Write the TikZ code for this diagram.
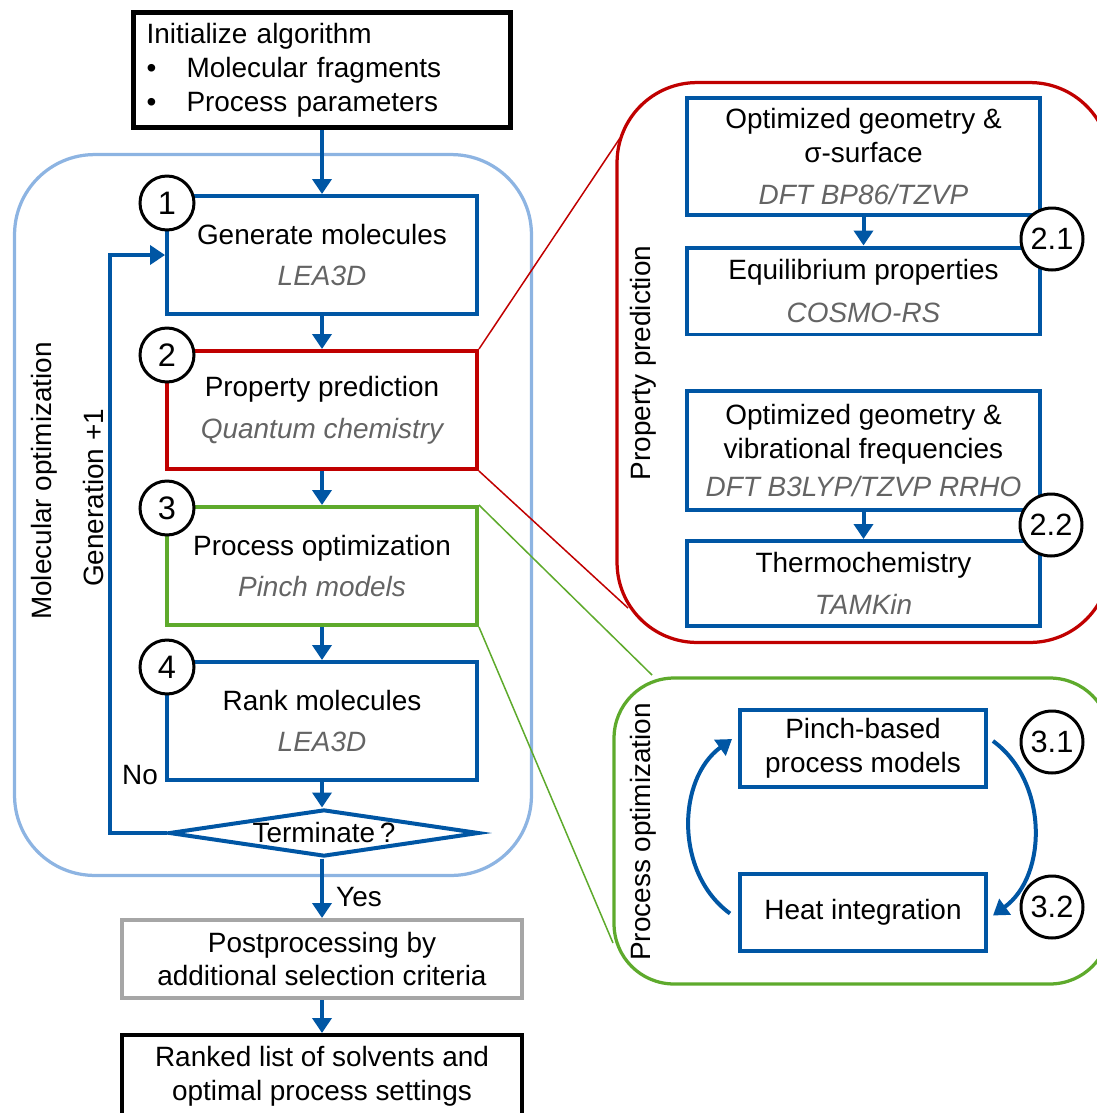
\documentclass[tikz,border=0pt]{standalone}
\usepackage{fontspec}
\setmainfont{Liberation Sans}
\usetikzlibrary{shapes.geometric,arrows.meta}
\definecolor{boxblue}{RGB}{0,86,164}
\definecolor{frameblue}{RGB}{141,180,226}
\definecolor{boxred}{RGB}{192,0,0}
\definecolor{boxgreen}{RGB}{94,170,44}
\definecolor{boxgrey}{RGB}{166,166,166}
\definecolor{subgrey}{RGB}{100,100,100}
\newcommand{\subtxt}[1]{{\color{subgrey}\itshape #1}}

\begin{document}
\begin{tikzpicture}[x=0.02cm, y=0.02cm,
                    every node/.style={font=\fontsize{15.9}{19.3}\selectfont, align=center, inner sep=0pt},
                    step_box/.style={draw=boxblue, line width=0.08cm, minimum width=6.2cm, minimum height=2.36cm},
                    sub_box/.style={draw=boxblue, line width=0.08cm, minimum width=7.06cm},
                    loop_box/.style={draw=boxblue, line width=0.08cm, minimum width=4.92cm, minimum height=1.54cm},
                    end_box/.style={line width=0.08cm, minimum width=8cm},
                    frame_style/.style={line width=0.065cm, rounded corners=1.6cm},
                    num_style/.style={circle, draw=black, fill=white, line width=0.06cm, minimum size=1.08cm, font=\fontsize{18.5}{20}\selectfont},
                    subnum_style/.style={num_style, minimum size=1.24cm, font=\fontsize{17.5}{20}\selectfont},
                    edge_style/.style={draw=boxblue, line width=0.08cm, -{Triangle[width=0.38cm,length=0.3cm]}},
                    zoom_style/.style={line width=0.03cm}]
  \clip (0,0) rectangle (1097,-1113);

  \node[draw=frameblue, frame_style, minimum width=10.34cm, minimum height=14.42cm] (molframe) at (273,-515) {};
  \node[draw=boxred, frame_style, minimum width=9.86cm, minimum height=11.2cm] (propframe) at (863.5,-362.5) {};
  \node[draw=boxgreen, frame_style, rounded corners=1.2cm, minimum width=9.92cm, minimum height=6.12cm] (procframe) at (862,-831) {};

  \node[draw=black, line width=0.1cm, align=left, text width=7.02cm, inner xsep=0.27cm, minimum height=2.32cm] (init) at (322,-70)
       {Initialize algorithm\\\makebox[0.8cm][l]{\textbullet}Molecular fragments\\\makebox[0.8cm][l]{\textbullet}Process parameters};
  \node[step_box] (gen) at (322,-255) {Generate molecules\\[4.5pt]\subtxt{LEA3D}};
  \node[step_box, draw=boxred] (prop) at (322,-410) {Property prediction\\[4.5pt]\subtxt{Quantum chemistry}};
  \node[step_box, draw=boxgreen] (proc) at (322,-566) {Process optimization\\[4.5pt]\subtxt{Pinch models}};
  \node[step_box] (rank) at (322,-721) {Rank molecules\\[4.5pt]\subtxt{LEA3D}};
  \node[diamond, draw=boxblue, line width=0.08cm, aspect=6.6, minimum width=6.2cm, minimum height=0.94cm] (term) at (324,-833) {Terminate\,?};
  \node[end_box, draw=boxgrey, minimum height=1.56cm] (post) at (322,-959) {Postprocessing by\\additional selection criteria};
  \node[end_box, draw=black, minimum height=1.64cm] (result) at (322,-1076) {Ranked list of solvents and\\optimal process settings};

  \node[rotate=90] (moltxt) at (44,-481) {Molecular optimization};
  \node[rotate=90] (gentxt) at (94,-498) {Generation +1};
  \node (notxt) at (140,-775) {No};
  \node (yestxt) at (359,-897) {Yes};

  \node[num_style] (c1) at (167,-203) {1};
  \node[num_style] (c2) at (167,-355) {2};
  \node[num_style] (c3) at (167,-508) {3};
  \node[num_style] (c4) at (167,-667) {4};

  \draw[edge_style] (init) -- (gen);
  \draw[edge_style] (gen) -- (prop);
  \draw[edge_style] (prop) -- (proc);
  \draw[edge_style] (proc) -- (rank);
  \draw[edge_style] (rank) -- (rank |- term.north);
  \draw[edge_style] (term.south -| post) -- (post);
  \draw[edge_style] (post) -- (result);
  \draw[edge_style] (term.west) -- ++(-57,0) |- (gen.west);

  \node[rotate=90] (proptxt) at (643,-363) {Property prediction};
  \node[sub_box, minimum height=2.34cm] (geo1) at (863.5,-156.5) {Optimized geometry \&\\σ-surface\\[4.8pt]\subtxt{DFT BP86/TZVP}};
  \node[sub_box, minimum height=1.74cm] (equi) at (863.5,-291) {Equilibrium properties\\[4.8pt]\subtxt{COSMO-RS}};
  \node[sub_box, minimum height=2.38cm] (geo2) at (863.5,-450.5) {Optimized geometry \&\\vibrational frequencies\\[2.5pt]\subtxt{DFT B3LYP/TZVP RRHO}};
  \node[sub_box, minimum height=1.7cm] (thermo) at (863.5,-583.5) {Thermochemistry\\[4.8pt]\subtxt{TAMKin}};
  \node[subnum_style] (c21) at (1052,-239) {2.1};
  \node[subnum_style] (c22) at (1051,-525) {2.2};
  \draw[edge_style] (geo1) -- (equi);
  \draw[edge_style] (geo2) -- (thermo);

  \node[rotate=90] (proctxt) at (643,-832) {Process optimization};
  \node[loop_box] (pinch) at (863,-748) {Pinch-based\\process models};
  \node[loop_box] (heat) at (863,-912.5) {Heat integration};
  \node[subnum_style] (c31) at (1052,-742) {3.1};
  \node[subnum_style] (c32) at (1052,-907) {3.2};
  \draw[edge_style] ([shift={(5,7)}]pinch.east) to[out=-36, in=36] ([shift={(5,-3)}]heat.east);
  \draw[edge_style] ([shift={(-8,-1)}]heat.west) to[out=144, in=-144] ([shift={(-6,9)}]pinch.west);

  \coordinate (redtop) at (620,-138);
  \coordinate (redbot) at (628,-608);
  \coordinate (greentop) at (652,-675);
  \coordinate (greenbot) at (613,-943);
  \draw[zoom_style, draw=boxred] (prop.north east) -- (redtop);
  \draw[zoom_style, draw=boxred] (prop.south east) -- (redbot);
  \draw[zoom_style, draw=boxgreen] (proc.north east) -- (greentop);
  \draw[zoom_style, draw=boxgreen] (proc.south east) -- (greenbot);
\end{tikzpicture}
\end{document}
